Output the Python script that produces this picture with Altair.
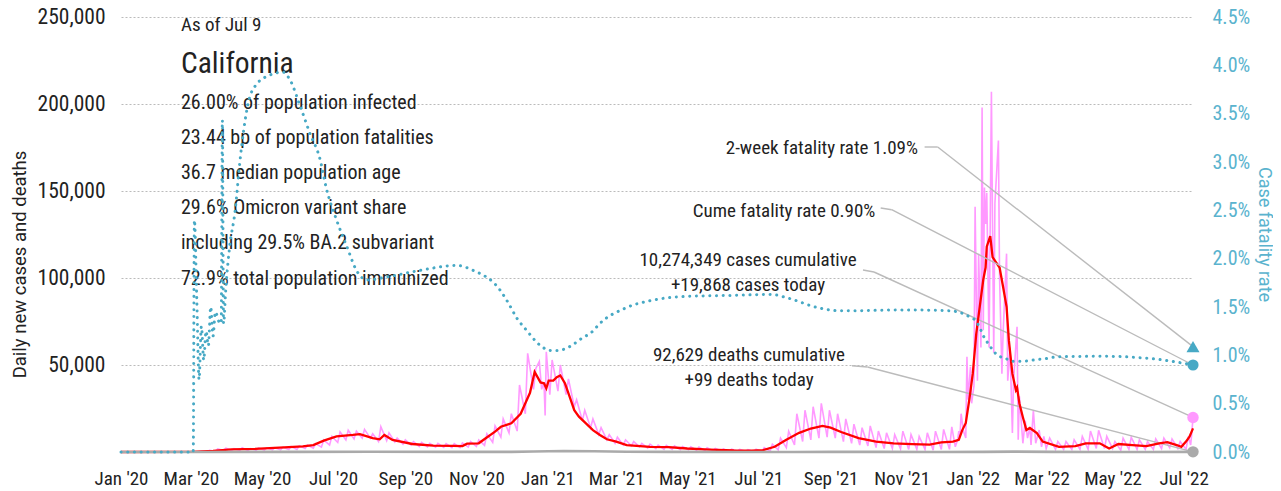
import altair as alt
import pandas as pd

# ---------------- data ----------------
RED = [
    ("2020-01-01", 0), ("2020-03-01", 50), ("2020-03-20", 600), ("2020-04-05", 1500),
    ("2020-04-25", 1800), ("2020-05-20", 2600), ("2020-06-05", 3200), ("2020-06-14", 4000),
    ("2020-06-23", 6500), ("2020-07-04", 9000), ("2020-07-18", 9800), ("2020-07-24", 10300),
    ("2020-08-04", 8000), ("2020-08-10", 7300), ("2020-08-14", 9800), ("2020-08-21", 6900),
    ("2020-09-07", 4600), ("2020-09-25", 3700), ("2020-10-12", 3500), ("2020-10-20", 3400),
    ("2020-10-24", 4800), ("2020-11-03", 5000), ("2020-11-09", 7900), ("2020-11-17", 11700),
    ("2020-11-22", 14500), ("2020-12-01", 16500), ("2020-12-09", 22000), ("2020-12-13", 28000),
    ("2020-12-17", 34000), ("2020-12-21", 46000), ("2020-12-26", 40000), ("2020-12-29", 39500),
    ("2020-12-31", 36600), ("2021-01-02", 41000), ("2021-01-06", 41000), ("2021-01-09", 43000),
    ("2021-01-12", 44000), ("2021-01-16", 39500), ("2021-01-20", 31800), ("2021-01-24", 24000),
    ("2021-01-28", 20300), ("2021-02-03", 16500), ("2021-02-09", 12600), ("2021-02-15", 9800),
    ("2021-02-21", 7300), ("2021-03-01", 6000), ("2021-03-10", 4000), ("2021-03-30", 3000),
    ("2021-04-15", 2800), ("2021-05-01", 2000), ("2021-05-20", 1400), ("2021-06-10", 900),
    ("2021-06-25", 800), ("2021-07-05", 1100), ("2021-07-15", 3000), ("2021-07-25", 7000),
    ("2021-08-05", 11000), ("2021-08-15", 13500), ("2021-08-25", 15000), ("2021-09-01", 14000),
    ("2021-09-10", 11500), ("2021-09-25", 8000), ("2021-10-10", 6000), ("2021-10-25", 5000),
    ("2021-11-10", 4500), ("2021-11-25", 4200), ("2021-12-05", 5500), ("2021-12-15", 6000),
    ("2021-12-20", 7000), ("2021-12-23", 12600), ("2021-12-26", 16700), ("2021-12-29", 30000),
    ("2022-01-01", 45000), ("2022-01-04", 68000), ("2022-01-07", 83500), ("2022-01-10", 99000),
    ("2022-01-12", 106000), ("2022-01-13", 118000), ("2022-01-15", 122000), ("2022-01-16", 124000),
    ("2022-01-18", 112000), ("2022-01-21", 109000), ("2022-01-24", 106000), ("2022-01-27", 95000),
    ("2022-01-30", 83500), ("2022-02-01", 64000), ("2022-02-04", 45000), ("2022-02-07", 35600),
    ("2022-02-08", 37000), ("2022-02-10", 28000), ("2022-02-13", 20000), ("2022-02-16", 12600),
    ("2022-02-19", 13800), ("2022-02-25", 10900), ("2022-03-02", 6000), ("2022-03-16", 3000),
    ("2022-03-30", 3400), ("2022-04-08", 5000), ("2022-04-20", 5000), ("2022-04-28", 2000),
    ("2022-05-06", 4600), ("2022-05-18", 4000), ("2022-05-30", 3400), ("2022-06-10", 5000),
    ("2022-06-17", 5700), ("2022-06-25", 4000), ("2022-06-29", 3000), ("2022-07-03", 6000),
    ("2022-07-06", 8800), ("2022-07-09", 13600),
]

PINK_HEAD = [("2020-01-01", 0), ("2020-02-20", 0), ("2020-03-01", 30)]
PINK_WEEKS_1_START = "2020-03-02"   # weekly (high, low) pairs
PINK_WEEKS_1 = [
    (150, 80), (400, 200), (900, 450), (1800, 900), (2200, 1000),
    (1900, 900), (2400, 800), (2000, 1000), (2300, 1100),
    (2400, 1200), (2500, 1300), (2700, 1400), (3100, 1500),
    (3600, 2000), (4000, 2200), (4800, 2800), (7000, 4000), (9000, 5500),
    (11500, 7000), (12500, 7500), (12000, 8000), (13000, 8000),
    (10500, 6000), (14500, 6500), (11000, 5800), (8000, 4500), (7000, 4000),
    (6000, 3200), (5500, 3000), (5000, 2800), (5000, 2700),
    (4800, 2500), (4800, 2500), (5200, 2800), (6000, 3200),
    (7000, 3800), (10500, 5500), (15000, 8500), (19000, 11000), (22000, 12000),
    (38500, 22000), (56700, 36000), (48000, 36000), (40000, 33000),
    (52900, 35000), (50000, 33000), (42000, 26000), (30000, 18000),
    (24000, 14000), (19000, 10000), (14000, 7000), (10000, 5000),
    (8500, 4000), (7000, 3500), (6000, 3000), (5000, 2300), (4500, 2000),
    (4000, 1500), (3800, 1500), (3500, 1400), (3200, 1300),
    (3000, 1000), (2800, 900), (2400, 800), (2000, 700), (1800, 500),
    (1600, 500), (1500, 400), (1400, 300), (1600, 200),
    (2500, 300), (4500, 1200), (8000, 2500), (12000, 4000),
    (22000, 6000), (24000, 7000), (26000, 8000), (28000, 8500), (24000, 8000),
    (22000, 6000), (19000, 5000), (16000, 4000), (14000, 3500),
    (15000, 2500), (12000, 2000), (11000, 2000), (10000, 1800),
    (12000, 1500), (10000, 1500), (9000, 1500), (11000, 1000), (12000, 1500),
    (13000, 1500),
]
PINK_EXTRA = [("2020-12-25", 52000), ("2020-12-30", 21000), ("2020-12-31", 57600)]
PINK_OMICRON = [
    ("2021-12-14", 14500), ("2021-12-17", 3000), ("2021-12-19", 7000), ("2021-12-20", 12000),
    ("2021-12-21", 9000), ("2021-12-22", 22000), ("2021-12-24", 12000), ("2021-12-26", 8000),
    ("2021-12-27", 54800), ("2021-12-28", 30000), ("2021-12-30", 49000), ("2021-12-31", 28000),
    ("2022-01-02", 38000), ("2022-01-03", 141000), ("2022-01-05", 41000), ("2022-01-06", 114000),
    ("2022-01-08", 60000), ("2022-01-09", 198000), ("2022-01-10", 70000), ("2022-01-11", 152000),
    ("2022-01-12", 131000), ("2022-01-13", 149000), ("2022-01-15", 60000), ("2022-01-17", 207000),
    ("2022-01-18", 127000), ("2022-01-19", 57000), ("2022-01-20", 143000), ("2022-01-23", 179000),
    ("2022-01-24", 100000), ("2022-01-26", 45000), ("2022-01-27", 68000), ("2022-01-30", 114000),
    ("2022-01-31", 41000), ("2022-02-02", 60000), ("2022-02-04", 11000), ("2022-02-05", 41000),
    ("2022-02-08", 72000), ("2022-02-09", 7000), ("2022-02-10", 32000), ("2022-02-13", 5000),
    ("2022-02-15", 18000), ("2022-02-17", 8000), ("2022-02-19", 14000), ("2022-02-20", 4000),
    ("2022-02-22", 24000), ("2022-02-24", 5000), ("2022-02-27", 12600), ("2022-03-01", 3000),
    ("2022-03-03", 9000), ("2022-03-05", 2000),
]
PINK_WEEKS_2_START = "2022-03-07"
PINK_WEEKS_2 = [
    (8000, 1500), (6000, 1500), (6000, 1500), (7000, 1500), (9000, 1500), (12000, 2000),
    (12500, 2000), (9000, 2000), (6000, 1000), (8000, 1500), (8500, 1500), (7000, 1500),
    (6000, 1500), (7500, 2000), (8000, 2500), (7500, 2000), (6000, 1500),
]
PINK_TAIL = [("2022-07-05", 9000), ("2022-07-07", 4000), ("2022-07-08", 11000), ("2022-07-09", 19868)]

DEATHS = [
    ("2020-01-01", 0), ("2020-03-15", 5), ("2020-04-20", 90), ("2020-06-01", 70),
    ("2020-08-01", 140), ("2020-10-15", 60), ("2020-12-01", 90), ("2020-12-20", 250),
    ("2021-01-15", 550), ("2021-02-10", 450), ("2021-03-10", 150), ("2021-04-15", 50),
    ("2021-06-15", 20), ("2021-08-01", 30), ("2021-09-01", 100), ("2021-10-15", 70),
    ("2021-12-01", 40), ("2022-01-10", 60), ("2022-02-05", 200), ("2022-03-10", 100),
    ("2022-04-15", 30), ("2022-06-01", 20), ("2022-07-09", 99),
]

CFR = [
    ("2020-01-01", 0), ("2020-03-03", 0), ("2020-03-04", 2.4), ("2020-03-06", 1.6),
    ("2020-03-08", 0.75), ("2020-03-10", 1.3), ("2020-03-12", 0.95), ("2020-03-14", 1.25),
    ("2020-03-16", 1.1), ("2020-03-18", 1.5), ("2020-03-20", 1.2), ("2020-03-22", 1.45),
    ("2020-03-25", 1.35), ("2020-03-27", 1.33), ("2020-03-28", 3.43), ("2020-03-29", 1.33),
    ("2020-03-31", 1.7), ("2020-04-03", 2.1), ("2020-04-08", 2.5), ("2020-04-12", 3.0),
    ("2020-04-19", 3.6), ("2020-04-26", 3.8), ("2020-05-08", 3.9), ("2020-05-19", 3.93),
    ("2020-05-25", 3.85), ("2020-06-03", 3.57), ("2020-06-11", 3.3), ("2020-06-20", 3.02),
    ("2020-06-25", 2.74), ("2020-07-04", 2.4), ("2020-07-13", 2.12), ("2020-07-21", 1.88),
    ("2020-07-30", 1.78), ("2020-08-16", 1.81), ("2020-09-14", 1.88), ("2020-10-15", 1.93),
    ("2020-10-29", 1.88), ("2020-11-21", 1.68), ("2020-11-28", 1.55), ("2020-12-06", 1.38),
    ("2020-12-14", 1.26), ("2020-12-25", 1.11), ("2021-01-04", 1.05), ("2021-01-10", 1.05),
    ("2021-01-20", 1.09), ("2021-01-31", 1.18), ("2021-02-08", 1.24), ("2021-02-15", 1.33),
    ("2021-03-09", 1.49), ("2021-04-01", 1.57), ("2021-05-01", 1.61), ("2021-06-08", 1.62),
    ("2021-07-12", 1.63), ("2021-07-27", 1.59), ("2021-08-22", 1.49), ("2021-09-10", 1.46),
    ("2021-11-05", 1.47), ("2021-12-13", 1.46), ("2021-12-29", 1.40), ("2022-01-04", 1.35),
    ("2022-01-08", 1.26), ("2022-01-11", 1.18), ("2022-01-15", 1.11), ("2022-01-19", 1.04),
    ("2022-01-24", 0.99), ("2022-01-29", 0.97), ("2022-02-03", 0.94), ("2022-02-14", 0.94),
    ("2022-02-24", 0.955), ("2022-03-04", 0.965), ("2022-03-15", 0.985), ("2022-04-23", 0.99),
    ("2022-05-31", 0.97), ("2022-06-30", 0.92), ("2022-07-09", 0.90),
]

LAST_DATE = "2022-07-09"
CUME_CASES = 10274349
CASES_TODAY = 19868
CUME_DEATHS = 92629
DEATHS_TODAY = 99
CFR_CUME = 0.90
CFR_2WK = 1.09

ASOF = "As of Jul 9"
STATE = "California"
INFO_LINES = [
    "26.00% of population infected",
    "23.44 bp of population fatalities",
    "36.7 median population age",
    "29.6% Omicron variant share",
    "including 29.5% BA.2 subvariant",
    "72.9% total population immunized",
]
ANN_2WK = f"2-week fatality rate {CFR_2WK:.2f}%"
ANN_CUME = f"Cume fatality rate {CFR_CUME:.2f}%"
ANN_CASES = [f"{CUME_CASES:,} cases cumulative", f"+{CASES_TODAY:,} cases today"]
ANN_DEATHS = [f"{CUME_DEATHS:,} deaths cumulative", f"+{DEATHS_TODAY} deaths today"]

X_TICKS = [(2020, 1), (2020, 3), (2020, 5), (2020, 7), (2020, 9), (2020, 11),
           (2021, 1), (2021, 3), (2021, 5), (2021, 7), (2021, 9), (2021, 11),
           (2022, 1), (2022, 3), (2022, 5), (2022, 7)]
LEFT_TICKS = [50000, 100000, 150000, 200000, 250000]
RIGHT_TICKS = [0, 0.5, 1.0, 1.5, 2.0, 2.5, 3.0, 3.5, 4.0, 4.5]

# ---------------- styles ----------------
COND = "Roboto Condensed"
REG = "Roboto"
TXT = "#222222"
TEAL = "#47a9c5"
TEAL_TXT = "#5ab3ce"
PINK = "#ff99ff"
REDC = "#ff0000"
GRAY = "#aaaaaa"
LEAD = "#bbbbbb"


def frame(pairs):
    return pd.DataFrame({"date": pd.to_datetime([p[0] for p in pairs]),
                         "value": [p[1] for p in pairs]})


def weekly(start, pairs):
    s = pd.Timestamp(start)
    out = []
    for k, (hi, lo) in enumerate(pairs):
        w = s + pd.Timedelta(days=7 * k)
        out.append((w + pd.Timedelta(days=1), hi))
        out.append((w + pd.Timedelta(days=6), lo))
    return out


pink_pairs = (PINK_HEAD + weekly(PINK_WEEKS_1_START, PINK_WEEKS_1) + PINK_EXTRA
              + PINK_OMICRON + weekly(PINK_WEEKS_2_START, PINK_WEEKS_2) + PINK_TAIL)
pink_df = frame(pink_pairs).sort_values("date").reset_index(drop=True)
red_df = frame(RED)
deaths_df = frame(DEATHS)
cfr_df = frame(CFR)
one = pd.DataFrame({"k": [0]})

end = pd.Timestamp(LAST_DATE)
cases_pt = pd.DataFrame({"date": [end], "value": [CASES_TODAY]})
deaths_pt = pd.DataFrame({"date": [end], "value": [DEATHS_TODAY]})
cume_pt = pd.DataFrame({"date": [end], "value": [CFR_CUME]})
twowk_pt = pd.DataFrame({"date": [end], "value": [CFR_2WK]})

# ---------------- encodings ----------------
x_enc = alt.X(
    "date:T",
    scale=alt.Scale(domain=[alt.DateTime(year=2020, month=1, date=1),
                            alt.DateTime(year=2022, month=7, date=9)]),
    axis=alt.Axis(values=[alt.DateTime(year=y, month=m, date=1) for y, m in X_TICKS],
                  format="%b '%y", title=None, labelFont=COND, labelFontSize=19,
                  labelColor=TXT, labelPadding=17, ticks=False, domain=False, grid=False,
                  labelFlush=False, labelOverlap=False),
)
y_left = alt.Y(
    "value:Q",
    scale=alt.Scale(domain=[0, 250000]),
    axis=alt.Axis(orient="left", values=LEFT_TICKS, format=",.0f",
                  title="Daily new cases and deaths", titleFont=REG, titleFontSize=18.5,
                  titleFontWeight="normal", titleColor=TXT, titleAngle=270,
                  titleX=-102, titleY=247, titleAlign="center", titleBaseline="middle",
                  labelFont=COND, labelFontSize=21.5, labelColor=TXT, labelPadding=16,
                  ticks=False, domain=False, grid=True, gridColor="#bbbbbb",
                  gridDash=[2, 2], gridWidth=1),
)
y_right = alt.Y(
    "value:Q",
    scale=alt.Scale(domain=[0, 4.5]),
    axis=alt.Axis(orient="right", values=RIGHT_TICKS,
                  labelExpr="format(datum.value, '.1f') + '%'",
                  labelFont=COND, labelFontSize=20, labelColor=TEAL_TXT, labelPadding=19,
                  ticks=False, domain=False, grid=False,
                  title="Case fatality rate", titleFont=REG, titleFontSize=18,
                  titleFontWeight="normal", titleColor=TEAL_TXT, titleAngle=90,
                  titleX=70, titleY=217, titleAlign="center", titleBaseline="middle"),
)


def leader(df_point, y_enc, start, elbow):
    flat = alt.Chart(one).mark_rule(color=LEAD, strokeWidth=1.4).encode(
        x=alt.value(start[0]), x2=alt.value(elbow[0]),
        y=alt.value(start[1]), y2=alt.value(elbow[1]))
    diag = alt.Chart(df_point).mark_rule(color=LEAD, strokeWidth=1.4).encode(
        x=x_enc, y=y_enc, x2=alt.value(elbow[0]), y2=alt.value(elbow[1]))
    return [flat, diag]


def label(text, x, y, align, size=19, line_height=25, font=COND):
    return alt.Chart(one).mark_text(
        text=text, font=font, fontSize=size, color=TXT, align=align,
        baseline="alphabetic", lineHeight=line_height,
    ).encode(x=alt.value(x), y=alt.value(y))


pink = alt.Chart(pink_df).mark_line(color=PINK, strokeWidth=1.6).encode(x=x_enc, y=y_left)
red = alt.Chart(red_df).mark_line(color=REDC, strokeWidth=2.3).encode(x=x_enc, y=y_left)
deaths = alt.Chart(deaths_df).mark_line(color=GRAY, strokeWidth=2.6).encode(x=x_enc, y=y_left)
pink_dot = alt.Chart(cases_pt).mark_circle(size=130, color=PINK, opacity=1).encode(x=x_enc, y=y_left)
gray_dot = alt.Chart(deaths_pt).mark_circle(size=130, color=GRAY, opacity=1).encode(x=x_enc, y=y_left)

left_layers = (
    [pink]
    + leader(cases_pt, y_left, (742, 253), (753, 255))
    + leader(deaths_pt, y_left, (731, 348.7), (746.5, 350))
    + [red, deaths, pink_dot, gray_dot,
       label(ASOF, 60, 14, "left", size=19),
       label(STATE, 60, 56, "left", size=29.5),
       label(INFO_LINES, 60, 91.7, "left", size=20, line_height=35.2),
       label(ANN_2WK, 797, 136.5, "right"),
       label(ANN_CUME, 754.4, 200, "right"),
       label(ANN_CASES, 627, 249, "center"),
       label(ANN_DEATHS, 628, 344, "center")]
)
left = alt.layer(*left_layers)

teal = alt.Chart(cfr_df).mark_line(
    color=TEAL, strokeWidth=3, strokeDash=[0.1, 6.6], strokeCap="round",
    interpolate="monotone").encode(x=x_enc, y=y_right)
teal_dot = alt.Chart(cume_pt).mark_circle(size=125, color=TEAL, opacity=1).encode(x=x_enc, y=y_right)
teal_tri = alt.Chart(twowk_pt).mark_point(
    shape="triangle-up", size=170, filled=True, color=TEAL, opacity=1).encode(x=x_enc, y=y_right)

right_layers = (
    leader(twowk_pt, y_right, (803.6, 130), (816.7, 130))
    + leader(cume_pt, y_right, (759.7, 191), (770.7, 192.7))
    + [teal, teal_dot, teal_tri]
)
right = alt.layer(*right_layers)

chart = (
    alt.layer(left, right)
    .resolve_scale(y="independent")
    .properties(width=1072, height=435,
                autosize=alt.AutoSizeParams(type="none"),
                padding={"left": 113, "top": 9, "right": 80, "bottom": 38},
                background="white")
    .configure_view(stroke=None)
)

chart.save("out.html", embed_options={"renderer": "svg", "actions": False})
